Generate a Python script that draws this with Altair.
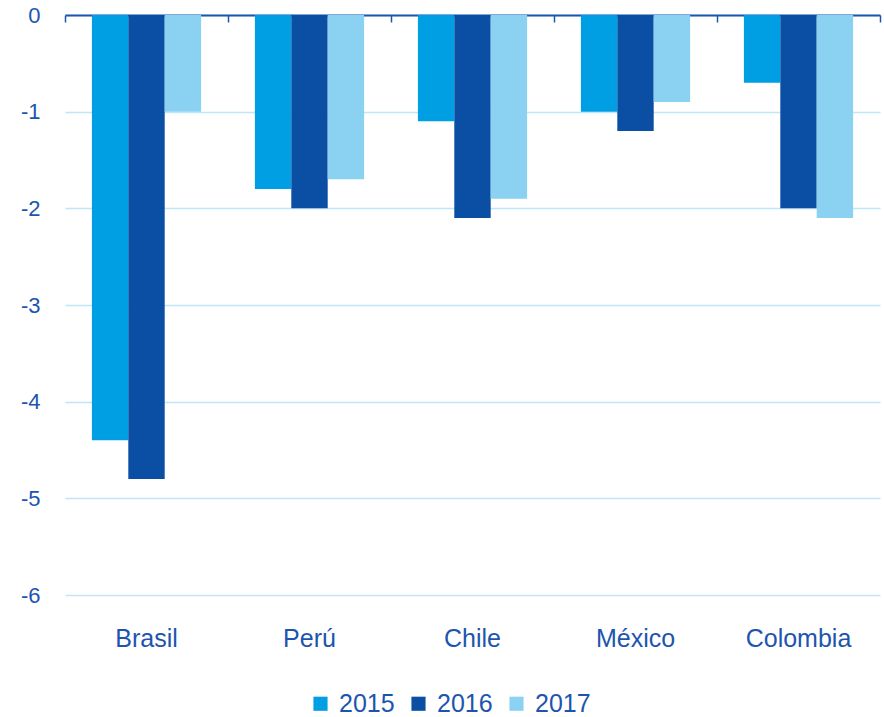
import altair as alt
import pandas as pd

countries = ["Brasil", "Perú", "Chile", "México", "Colombia"]
years = ["2015", "2016", "2017"]
v2015 = [-4.4, -1.8, -1.1, -1.0, -0.7]
v2016 = [-4.8, -2.0, -2.1, -1.2, -2.0]
v2017 = [-1.0, -1.7, -1.9, -0.9, -2.1]
colors = ["#009FE3", "#0A4FA3", "#8BD1F1"]
y_ticks = [0, -1, -2, -3, -4, -5, -6]

rows = []
for i, c in enumerate(countries):
    for y, vals in zip(years, [v2015, v2016, v2017]):
        rows.append({"pais": c, "anio": y, "valor": vals[i]})
df = pd.DataFrame(rows)

TXT = "#1D55AE"
FONT = "Liberation Sans"

xscale = alt.Scale(domain=countries, paddingInner=0.33, paddingOuter=0.165)
yscale = alt.Scale(domain=[-6, 0], nice=False)
yaxis = alt.Axis(values=y_ticks, title=None, domain=False, ticks=False,
                 labelFontSize=22, labelColor=TXT, labelFont=FONT, labelPadding=25,
                 labelExpr="'' + datum.value",
                 gridColor="#BEE6F7", gridWidth=1.5)

bars = alt.Chart(df).mark_bar().encode(
    x=alt.X("pais:N", scale=xscale, sort=countries,
            axis=alt.Axis(title=None, domain=False, ticks=False, labelAngle=0,
                          labelFontSize=25, labelColor=TXT, labelFont=FONT,
                          labelPadding=31)),
    xOffset=alt.XOffset("anio:N", sort=years),
    y=alt.Y("valor:Q", scale=yscale, axis=yaxis),
    color=alt.Color("anio:N", sort=years,
                    scale=alt.Scale(domain=years, range=colors),
                    legend=alt.Legend(title=None, orient="none", direction="horizontal",
                                      legendX=243, legendY=676,
                                      symbolType="square", symbolSize=200,
                                      symbolStrokeWidth=0, symbolOpacity=1,
                                      labelFontSize=25, labelColor=TXT, labelFont=FONT,
                                      labelOffset=6, columnPadding=11)),
)

topaxis = alt.Chart(df).mark_bar(opacity=0).encode(
    x=alt.X("pais:N", scale=xscale, sort=countries,
            axis=alt.Axis(title=None, labels=False, orient="bottom", offset=-580,
                          domain=True, domainColor=TXT, domainWidth=2,
                          ticks=True, tickColor=TXT, tickWidth=1.5, tickSize=7,
                          bandPosition=0, tickOffset=-27, grid=False)),
    y=alt.Y("valor:Q", scale=yscale, axis=yaxis),
)

endtick = alt.Chart(df).mark_bar(opacity=0).encode(
    x=alt.X("pais:N", scale=xscale, sort=countries,
            axis=alt.Axis(title=None, labels=False, orient="bottom", offset=-580,
                          domain=False, values=[countries[-1]],
                          ticks=True, tickColor=TXT, tickWidth=1.5, tickSize=7,
                          bandPosition=1, tickOffset=27, grid=False)),
    y=alt.Y("valor:Q", scale=yscale, axis=yaxis),
)

chart = alt.layer(bars, topaxis, endtick).resolve_axis(x="independent").properties(
    width=815, height=580,
    autosize=alt.AutoSizeParams(type="none"),
    padding={"left": 65, "top": 15, "right": 4, "bottom": 122},
).configure_view(stroke=None)

chart.save("out.html", embed_options={"renderer": "svg", "actions": False})
